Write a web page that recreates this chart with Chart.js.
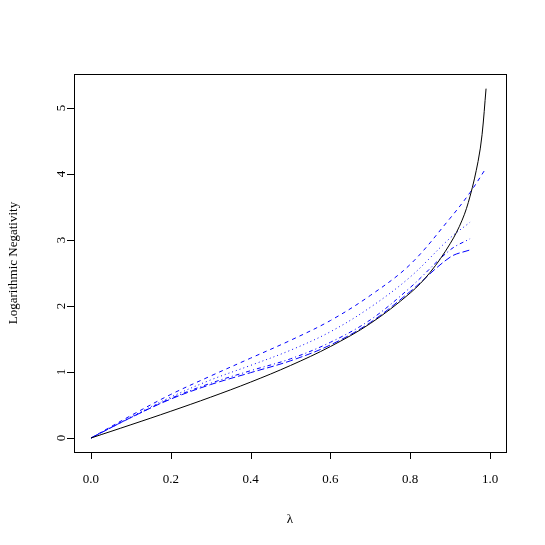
<!DOCTYPE html>
<html><head><meta charset="utf-8"><script src="https://cdn.jsdelivr.net/npm/chart.js@4"></script>
<style>body{margin:0;background:#fff}</style></head><body>
<div style="width:545px;height:545px"><canvas id="c"></canvas></div>
<script>
const lambda = [0,0.1,0.2,0.3,0.4,0.5,0.6,0.7,0.8,0.85,0.9,0.93,0.95,0.97,0.98,0.99];
const exact = [0,0.2007,0.4055,0.619,0.847,1.099,1.386,1.735,2.197,2.51,2.944,3.30,3.664,4.19,4.595,5.293];
const lamB = [0,0.1,0.2,0.3,0.4,0.5,0.6,0.7,0.8,0.9,0.95,0.99];
const dashTop = [0,0.34,0.66,0.94,1.21,1.48,1.78,2.16,2.63,3.33,3.72,4.09];
const lamS = [0,0.1,0.2,0.3,0.4,0.5,0.6,0.7,0.8,0.9,0.95];
const dotted = [0,0.32,0.62,0.88,1.1,1.33,1.61,1.98,2.44,3.03,3.27];
const dashDot = [0,0.31,0.6,0.83,1.02,1.2,1.45,1.79,2.28,2.85,3.02];
const longDash = [0,0.31,0.59,0.81,0.99,1.17,1.41,1.75,2.22,2.74,2.85];
const xTicks = [0,0.2,0.4,0.6,0.8,1.0];
const yTicks = [0,1,2,3,4,5];
const pts = (xs, ys) => xs.map((x,i)=>({x, y: ys[i]}));
const ds = (data, color, dash) => ({data, borderColor: color, borderWidth: 1, borderDash: dash, pointRadius: 0, fill: false, tension: 0.35});
const F = '"Liberation Serif", "DejaVu Serif", serif';
const rAxes = {id:'rAxes', afterDraw(ch){
  const c=ch.ctx, a=ch.chartArea, xs=ch.scales.x, ys=ch.scales.y;
  c.save(); c.strokeStyle='#000'; c.lineWidth=1; c.fillStyle='#000';
  c.strokeRect(a.left+0.5,a.top+0.5,a.right-a.left,a.bottom-a.top);
  c.font='13px '+F; c.textAlign='center'; c.textBaseline='middle';
  c.beginPath();
  const x0=xs.getPixelForValue(xTicks[0]), x1=xs.getPixelForValue(xTicks[xTicks.length-1]);
  c.moveTo(x0,a.bottom+0.5); c.lineTo(x1,a.bottom+0.5);
  xTicks.forEach(v=>{const p=Math.round(xs.getPixelForValue(v))+0.5; c.moveTo(p,a.bottom); c.lineTo(p,a.bottom+7);});
  const y0=ys.getPixelForValue(yTicks[0]), y1=ys.getPixelForValue(yTicks[yTicks.length-1]);
  c.moveTo(a.left+0.5,y0); c.lineTo(a.left+0.5,y1);
  yTicks.forEach(v=>{const p=Math.round(ys.getPixelForValue(v))+0.5; c.moveTo(a.left,p); c.lineTo(a.left-7,p);});
  c.stroke();
  xTicks.forEach(v=>c.fillText(v.toFixed(1), xs.getPixelForValue(v), 480));
  yTicks.forEach(v=>{c.save(); c.translate(62, ys.getPixelForValue(v)); c.rotate(-Math.PI/2); c.fillText(String(v),0,0); c.restore();});
  c.fillText('λ', (a.left+a.right)/2, 520);
  c.save(); c.translate(14,(a.top+a.bottom)/2); c.rotate(-Math.PI/2); c.fillText('Logarithmic Negativity',0,0); c.restore();
  c.restore();
}};
new Chart(document.getElementById('c'), {
  type:'line',
  data:{datasets:[
    ds(pts(lambda,exact),'#000',[]),
    ds(pts(lamB,dashTop),'#0000ff',[4,4]),
    ds(pts(lamS,dotted),'#0000ff',[1,3]),
    ds(pts(lamS,dashDot),'#0000ff',[1,3,4,3]),
    ds(pts(lamS,longDash),'#0000ff',[7,3])
  ]},
  options:{responsive:true, maintainAspectRatio:false, animation:false,
    layout:{padding:{left:74,top:74,right:39,bottom:93}},
    plugins:{legend:{display:false}, tooltip:{enabled:false}},
    scales:{x:{type:'linear', min:-0.0426, max:1.04, display:false},
            y:{min:-0.212, max:5.515, display:false}}},
  plugins:[rAxes]
});
</script></body></html>
